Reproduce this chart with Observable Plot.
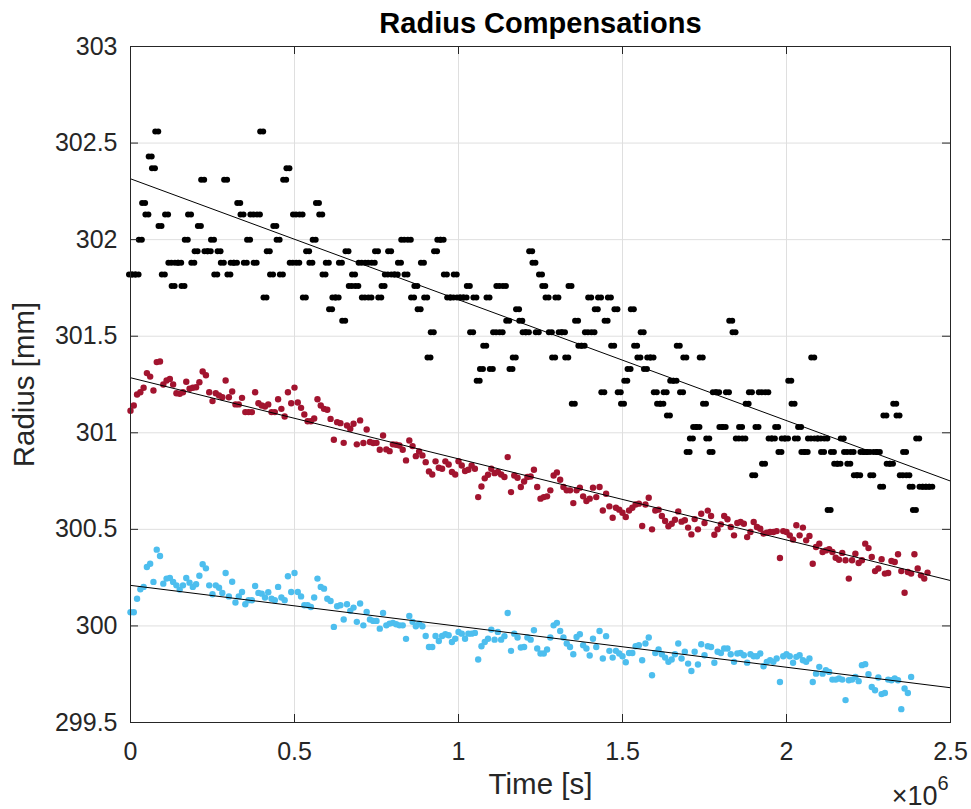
<!DOCTYPE html>
<html>
<head>
<meta charset="utf-8">
<script src="https://cdn.jsdelivr.net/npm/d3@7"></script>
<script src="https://cdn.jsdelivr.net/npm/@observablehq/plot@0.6"></script>
<style>
  html, body { margin: 0; padding: 0; background: #fff; }
  #chart { width: 971px; height: 809px; }
</style>
</head>
<body>
<div id="chart"></div>
<script>
// ---- data ----
const titleText = "Radius Compensations";
const xLabel = "Time [s]";
const yLabel = "Radius [mm]";
const xTicks = [0, 500000, 1000000, 1500000, 2000000, 2500000];
const yTicks = [299.5, 300, 300.5, 301, 301.5, 302, 302.5, 303];

// sample times in seconds (shared by the three series)
const timeS = [
  0,1e4,2e4,3e4,4e4,5e4,6e4,7e4,8e4,9e4,10e4,11e4,12e4,13e4,14e4,15e4,16e4,17e4,18e4,19e4,
  20e4,21e4,22e4,23e4,24e4,25e4,26e4,27e4,28e4,29e4,30e4,31e4,32e4,33e4,34e4,35e4,36e4,37e4,38e4,39e4,
  40e4,41e4,42e4,43e4,44e4,45e4,46e4,47e4,48e4,49e4,50e4,51e4,52e4,53e4,54e4,55e4,56e4,57e4,58e4,59e4,
  60e4,61e4,62e4,63e4,64e4,65e4,66e4,67e4,68e4,69e4,70e4,71e4,72e4,73e4,74e4,75e4,76e4,77e4,78e4,79e4,
  80e4,81e4,82e4,83e4,84e4,85e4,86e4,87e4,88e4,89e4,90e4,91e4,92e4,93e4,94e4,95e4,96e4,97e4,98e4,99e4,
  100e4,101e4,102e4,103e4,104e4,105e4,106e4,107e4,108e4,109e4,110e4,111e4,112e4,113e4,114e4,115e4,116e4,117e4,118e4,119e4,
  120e4,121e4,122e4,123e4,124e4,125e4,126e4,127e4,128e4,129e4,130e4,131e4,132e4,133e4,134e4,135e4,136e4,137e4,138e4,139e4,
  140e4,141e4,142e4,143e4,144e4,145e4,146e4,147e4,148e4,149e4,150e4,151e4,152e4,153e4,154e4,155e4,156e4,157e4,158e4,159e4,
  160e4,161e4,162e4,163e4,164e4,165e4,166e4,167e4,168e4,169e4,170e4,171e4,172e4,173e4,174e4,175e4,176e4,177e4,178e4,179e4,
  180e4,181e4,182e4,183e4,184e4,185e4,186e4,187e4,188e4,189e4,190e4,191e4,192e4,193e4,194e4,195e4,196e4,197e4,198e4,199e4,
  200e4,201e4,202e4,203e4,204e4,205e4,206e4,207e4,208e4,209e4,210e4,211e4,212e4,213e4,214e4,215e4,216e4,217e4,218e4,219e4,
  220e4,221e4,222e4,223e4,224e4,225e4,226e4,227e4,228e4,229e4,230e4,231e4,232e4,233e4,234e4,235e4,236e4,237e4,238e4,239e4,
  240e4,241e4,242e4,243e4,244e4
];

const blackRadius = [
  301.82,301.82,301.82,302.00,302.19,302.13,302.43,302.37,302.56,302.07,301.82,302.13,301.88,301.76,301.88,301.88,301.76,302.00,302.13,301.88,
  301.94,302.07,302.31,301.94,301.94,302.00,301.82,301.94,301.88,302.31,301.82,301.88,301.88,302.19,302.13,301.88,302.00,302.13,301.88,302.13,
  302.56,301.70,301.94,301.82,302.07,302.00,301.82,302.31,302.37,301.88,302.13,301.88,302.13,301.70,301.94,301.88,302.00,302.19,302.13,301.82,
  301.88,301.64,301.70,
  301.70,301.88,301.58,301.94,301.76,301.82,301.76,301.88,301.70,301.88,301.70,301.88,301.94,301.70,301.76,301.82,301.94,301.82,301.82,301.88,
  302.00,301.82,302.00,301.70,301.76,301.64,301.88,301.70,301.39,301.52,301.94,302.00,302.00,301.82,301.70,301.70,301.82,301.70,301.70,301.70,
  301.76,301.52,301.70,301.27,301.33,301.45,301.70,301.33,301.52,301.76,301.52,301.76,301.58,301.33,301.39,301.64,301.58,301.52,301.52,301.94,
  301.88,301.52,301.82,301.76,
  301.70,301.52,301.39,301.70,301.52,301.52,301.39,301.76,301.15,301.58,301.45,301.45,301.52,301.70,301.52,301.64,301.70,301.21,301.58,301.70,
  301.45,301.64,301.21,301.15,301.27,301.33,301.64,301.45,301.39,301.52,301.33,301.39,301.39,301.21,301.15,301.15,301.21,301.09,301.27,301.27,
  301.45,301.21,301.39,300.90,300.97,301.03,301.03,301.39,301.15,300.97,300.90,301.21,301.21,301.03,301.03,301.21,301.58,301.52,300.97,301.03,
  300.97,301.15,301.21,300.78,
  301.03,301.21,300.84,301.21,300.97,300.97,301.03,300.90,300.97,300.97,301.27,301.15,300.97,301.03,300.90,300.90,300.97,301.39,300.97,300.97,
  300.90,300.97,300.60,300.90,300.84,300.84,300.97,300.90,300.84,300.90,300.78,300.78,300.90,300.90,300.90,300.78,300.90,300.90,300.72,301.09,
  300.84,300.84,301.15,301.09,300.78,300.90,300.78,300.72,300.60,300.97,300.72,300.72,300.72,300.72
];

const redRadius = [
  301.114,301.141,301.198,301.210,301.233,301.309,301.291,301.219,301.366,301.369,301.250,301.271,301.279,301.250,301.205,301.202,301.210,301.264,301.228,301.233,
  301.236,301.262,301.317,301.298,301.210,301.164,301.205,301.193,301.184,301.271,301.184,301.214,301.147,301.147,301.181,301.107,301.107,301.107,301.210,301.153,
  301.141,301.136,301.147,301.107,301.107,301.174,301.124,301.084,301.210,301.153,301.234,301.157,301.129,301.095,301.060,301.060,301.074,301.174,301.141,301.124,
  301.119,301.072,300.964,
  301.055,301.050,300.948,301.038,301.021,301.047,300.940,301.064,300.947,301.017,300.952,300.947,300.948,300.912,300.986,300.914,300.905,300.940,300.938,300.934,
  300.912,300.857,300.960,300.931,300.879,300.903,300.883,300.848,300.800,300.784,300.852,300.819,300.814,300.852,300.836,300.797,300.784,300.853,300.831,300.802,
  300.809,300.831,300.814,300.667,300.722,300.764,300.783,300.814,300.791,300.797,300.784,300.771,300.874,300.693,300.779,300.767,300.719,300.748,300.771,300.774,
  300.809,300.719,300.659,
  300.667,300.671,300.702,300.779,300.795,300.757,300.719,300.702,300.702,300.636,300.702,300.716,300.671,300.647,300.659,300.716,300.667,300.719,300.598,300.684,
  300.619,300.560,300.612,300.602,300.586,300.564,300.598,300.612,300.629,300.633,300.517,300.629,300.664,300.500,300.598,300.602,300.569,300.543,300.516,300.529,
  300.550,300.593,300.540,300.547,300.509,300.474,300.553,300.500,300.581,300.533,300.597,300.569,300.472,300.500,300.526,300.569,300.552,300.512,300.469,300.533,
  300.538,300.529,300.460,300.486,300.538,
  300.512,300.503,300.478,300.483,300.486,300.486,300.491,300.352,300.491,300.486,300.469,300.447,300.521,300.469,300.509,300.443,300.466,300.322,300.409,300.426,
  300.383,300.391,300.397,300.383,300.353,300.343,300.378,300.340,300.245,300.340,300.374,300.326,300.340,300.426,300.403,300.357,300.284,300.297,300.345,300.271,
  300.274,300.336,300.331,300.371,300.284,300.172,300.279,300.271,300.371,300.297,300.262,300.245,300.276
];

const cyanRadius = [
  300.071,300.071,300.141,300.190,300.202,300.305,300.322,300.228,300.395,300.362,300.219,300.245,300.248,300.228,300.210,300.188,300.210,300.248,300.224,300.202,
  300.216,300.260,300.319,300.298,300.210,300.164,300.210,300.198,300.171,300.274,300.153,300.229,300.121,300.153,300.176,300.112,300.133,300.133,300.207,300.171,
  300.167,300.147,300.174,300.141,300.133,300.202,300.147,300.133,300.257,300.176,300.274,300.176,300.153,300.107,300.107,300.098,300.147,300.245,300.202,300.193,
  300.141,300.129,299.995,
  300.102,300.107,300.033,300.112,300.078,300.095,300.021,300.116,300.003,300.072,300.033,300.026,300.026,299.986,300.067,300.003,300.012,300.016,300.009,300.003,
  300.003,299.933,300.052,300.021,299.998,300.012,299.998,299.948,299.891,299.891,299.948,299.922,299.948,299.957,299.952,299.917,299.934,299.969,299.960,299.934,
  299.960,299.960,299.964,299.826,299.895,299.917,299.934,299.981,299.929,299.969,299.929,299.947,300.067,299.871,299.960,299.940,299.888,299.891,299.940,299.929,
  299.978,299.883,299.857,
  299.857,299.878,299.940,300.003,300.016,299.974,299.940,299.909,299.891,299.853,299.943,299.957,299.900,299.883,299.847,299.934,299.891,299.974,299.831,299.947,
  299.871,299.836,299.871,299.857,299.843,299.812,299.860,299.860,299.895,299.900,299.822,299.909,299.940,299.745,299.860,299.878,299.853,299.836,299.814,299.826,
  299.853,299.909,299.831,299.866,299.805,299.767,299.866,299.800,299.905,299.848,299.895,299.891,299.809,299.866,299.860,299.883,299.883,299.853,299.814,299.857,
  299.860,299.848,299.810,299.853,299.843,
  299.843,299.857,299.791,299.814,299.822,299.814,299.831,299.710,299.843,299.853,299.843,299.809,299.840,299.848,299.822,299.814,299.831,299.710,299.753,299.788,
  299.753,299.771,299.762,299.722,299.722,299.728,299.722,299.616,299.719,299.722,299.736,299.714,299.797,299.802,299.750,299.684,299.667,299.733,299.647,299.653,
  299.722,299.719,299.728,299.719,299.569,299.676,299.653,299.736
];

// fitted trend lines: radius at t = 0 and at t = 2.5e6 s
const fitTimes = [0, 2500000];
const blackFit = [302.315, 300.75];
const redFit = [301.285, 300.235];
const cyanFit = [300.21, 299.68];

const seriesColors = { black: "#000000", red: "#A2142F", cyan: "#4DBEEE" };

// ---- build tables ----
const toRows = (vals, times) => vals.map((r, i) => ({ t: times[i], r }));
const blackRows = toRows(blackRadius, timeS);
const redRows = toRows(redRadius, timeS);
const cyanRows = toRows(cyanRadius, timeS);

const W = 971, H = 809;
const mL = 130, mR = 21, mT = 46, mB = 87;
const pw = W - mL - mR, ph = H - mT - mB;
const axisColor = "#262626";
const gridColor = "#dfdfdf";
const font = "'Liberation Sans', Arial, Helvetica, sans-serif";

const chart = Plot.plot({
  width: W,
  height: H,
  marginLeft: mL,
  marginRight: mR,
  marginTop: mT,
  marginBottom: mB,
  style: { fontFamily: font, color: axisColor, background: "#fff", overflow: "visible" },
  x: { domain: [xTicks[0], xTicks[xTicks.length - 1]] },
  y: { domain: [yTicks[0], yTicks[yTicks.length - 1]] },
  marks: [
    Plot.gridX(xTicks, { stroke: gridColor, strokeOpacity: 1, strokeWidth: 1 }),
    Plot.gridY(yTicks, { stroke: gridColor, strokeOpacity: 1, strokeWidth: 1 }),
    // black series (wide markers)
    Plot.dot(blackRows, { x: "t", y: "r", r: 3, fill: seriesColors.black, stroke: null, dx: -1.5 }),
    Plot.dot(blackRows, { x: "t", y: "r", r: 3, fill: seriesColors.black, stroke: null, dx: 1.5 }),
    Plot.dot(redRows, { x: "t", y: "r", r: 3.2, fill: seriesColors.red, stroke: null }),
    Plot.dot(cyanRows, { x: "t", y: "r", r: 3.2, fill: seriesColors.cyan, stroke: null }),
    Plot.line(toRows(blackFit, fitTimes), { x: "t", y: "r", stroke: "#000", strokeWidth: 1 }),
    Plot.line(toRows(redFit, fitTimes), { x: "t", y: "r", stroke: "#000", strokeWidth: 1 }),
    Plot.line(toRows(cyanFit, fitTimes), { x: "t", y: "r", stroke: "#000", strokeWidth: 1 }),
    // inward ticks on all four sides
    Plot.tickY(yTicks, { y: d => d, insetRight: pw - 8, stroke: axisColor }),
    Plot.tickY(yTicks, { y: d => d, insetLeft: pw - 8, stroke: axisColor }),
    Plot.tickX(xTicks, { x: d => d, insetTop: ph - 8, stroke: axisColor }),
    Plot.tickX(xTicks, { x: d => d, insetBottom: ph - 8, stroke: axisColor }),
    Plot.frame({ stroke: axisColor, strokeWidth: 1 }),
    Plot.axisX(xTicks, { tickSize: 0, tickPadding: 20, fontSize: 25, label: null, tickFormat: d => String(d / 1e6) }),
    Plot.axisY(yTicks, { tickSize: 0, tickPadding: 13, fontSize: 25, label: null, tickFormat: d => String(d) }),
    // texts
    Plot.text([titleText], { frameAnchor: "top", dy: -14, lineAnchor: "bottom", fontSize: 29, fontWeight: "bold", fill: "#000" }),
    Plot.text([xLabel], { frameAnchor: "bottom", dy: 71, lineAnchor: "bottom", fontSize: 29.5, fill: axisColor }),
    Plot.text([yLabel], { frameAnchor: "left", dx: -97, rotate: -90, textAnchor: "middle", lineAnchor: "bottom", fontSize: 29.5, fill: axisColor }),
    Plot.text(["\u00d710"], { frameAnchor: "bottom-right", dx: -13, dy: 82, lineAnchor: "bottom", textAnchor: "end", fontSize: 27, fill: axisColor }),
    Plot.text(["6"], { frameAnchor: "bottom-right", dx: -13, dy: 67, lineAnchor: "bottom", textAnchor: "start", fontSize: 20, fill: axisColor })
  ]
});
document.getElementById("chart").appendChild(chart);
</script>
</body>
</html>
